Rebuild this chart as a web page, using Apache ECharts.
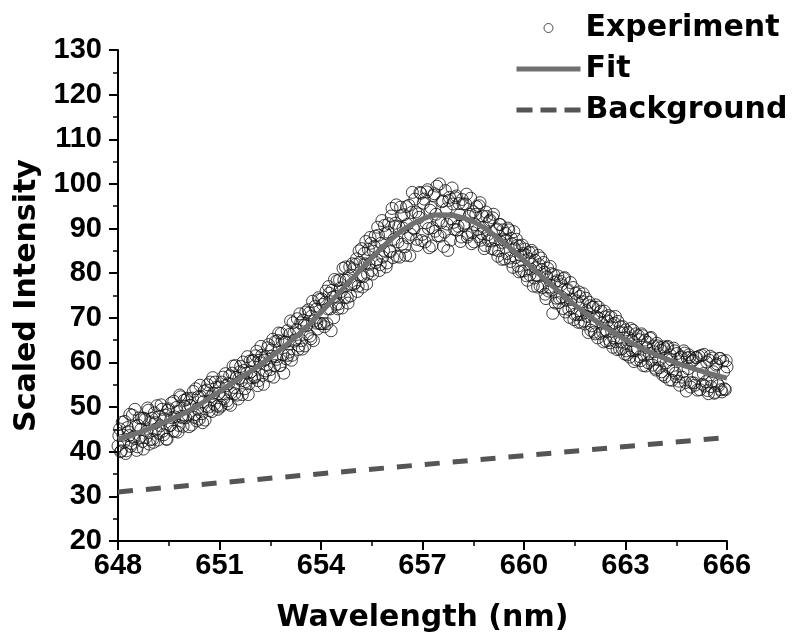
<!DOCTYPE html>
<html><head><meta charset="utf-8">
<script src="https://cdn.jsdelivr.net/npm/echarts@6/dist/echarts.min.js"></script>
<style>html,body{margin:0;padding:0;background:#fff}#c{width:795px;height:641px}</style>
</head><body><div id="c"></div>
<script>
// ---- data ----
const xTickLabels = ['648','651','654','657','660','663','666'];
const yTickLabels = ['20','30','40','50','60','70','80','90','100','110','120','130'];
const seriesNames = ['Experiment','Fit','Background'];
// experiment, scan A: sampled every 0.05 nm from 648.000 nm
const expStartA = 648, expStep = 0.05;
const expYA = [
41.3,45.1,40.2,43.7,46.8,40.2,44.5,48.4,41.8,43.3,49.5,40.3,45.9,43.2,47.5,40.6,47.2,44.6,49.3,42.7,
47.5,42.1,46.5,50.3,44.1,45.8,49.5,43.8,48.2,42.8,49.6,45.9,47.6,51.3,44.6,49.0,45.9,52.3,47.6,51.5,
47.6,52.0,45.6,50.3,52.0,47.7,54.1,49.6,47.3,52.3,46.5,53.6,50.2,55.0,49.2,52.3,56.6,50.6,54.4,49.5,
54.5,50.4,56.7,53.0,54.8,50.8,57.0,53.2,59.2,53.0,56.6,51.8,57.9,55.9,60.1,54.1,57.6,52.8,60.3,56.6,
60.4,56.7,62.5,55.9,59.9,61.6,55.1,61.3,59.4,64.0,58.4,61.4,56.7,64.7,60.7,66.6,59.3,64.8,57.6,64.5,
67.1,62.3,69.3,61.6,66.6,65.1,69.8,63.7,68.9,63.0,68.3,71.3,66.4,71.1,65.3,73.7,69.3,71.9,67.5,74.1,
68.7,73.0,68.0,76.0,72.0,75.5,67.1,74.6,78.6,73.0,72.0,78.5,75.9,81.1,74.5,78.4,73.3,81.4,77.5,81.0,
77.8,83.2,77.1,82.4,85.5,79.2,82.1,77.6,85.3,88.0,80.6,84.9,88.3,83.0,88.5,81.9,91.8,85.1,88.9,82.3,
91.1,84.8,94.5,87.6,91.2,83.8,90.4,94.8,86.5,93.1,84.0,90.9,95.2,88.7,98.1,89.9,93.7,86.2,92.5,97.9,
88.7,96.6,91.3,98.7,85.7,94.7,90.2,97.8,93.2,88.4,100.0,91.3,96.2,89.2,94.4,85.1,97.0,92.2,95.5,89.8,
97.3,90.5,93.1,88.1,95.5,91.2,97.7,88.6,93.2,86.6,93.8,90.9,94.9,88.2,95.8,88.9,90.3,86.2,92.7,87.3,
91.9,85.5,93.2,87.5,89.9,85.0,90.9,83.1,87.5,88.9,84.4,89.7,82.6,86.5,89.3,83.5,86.2,80.3,84.0,86.3,
80.5,84.1,78.4,84.7,80.9,84.6,78.9,81.2,76.9,81.9,83.4,76.8,80.2,74.3,81.1,76.9,79.9,71.0,77.9,74.4,
79.4,74.4,77.4,72.1,79.0,74.0,76.3,70.1,74.1,76.8,70.8,73.8,69.0,74.8,70.7,75.4,68.6,71.6,66.7,72.7,
68.2,72.4,66.4,70.2,72.4,66.5,68.8,64.6,70.2,67.0,70.5,64.4,68.5,65.5,70.3,62.9,66.9,68.0,63.1,66.6,
67.3,61.7,65.5,67.6,62.6,60.2,66.4,63.1,65.1,60.4,66.0,61.6,59.2,64.5,62.0,65.6,59.4,62.4,58.3,63.7,
58.8,62.7,57.2,63.1,59.9,63.6,56.1,60.6,58.2,62.6,56.8,60.8,54.9,61.3,57.9,62.1,53.6,58.6,61.2,55.5,
60.5,54.9,61.1,57.1,53.9,61.6,57.5,54.7,60.1,53.0,61.4,55.7,57.9,53.3,59.7,54.8,60.9,53.4,57.9,53.9,
59.0
];
// experiment, scan B: sampled every 0.05 nm from 648.025 nm
const expStartB = 648.025;
const expYB = [
43.6,40.0,46.6,42.1,39.6,45.4,43.6,41.2,48.2,43.0,45.7,41.1,47.6,45.0,42.3,47.5,43.2,49.8,41.7,46.5,
42.8,48.7,45.0,42.6,47.9,50.5,44.6,47.4,42.8,49.3,45.8,50.9,44.6,47.8,49.9,44.4,52.7,47.9,45.7,50.2,
51.7,48.2,50.4,46.0,53.5,48.3,46.9,52.3,54.9,48.5,51.2,47.1,53.8,50.0,55.6,49.0,53.1,55.6,50.2,53.0,
50.0,55.6,51.9,57.5,51.4,55.3,50.4,57.6,54.4,59.3,52.7,56.4,59.1,52.8,58.2,55.7,61.3,55.2,57.9,60.4,
56.7,61.5,54.8,60.5,63.6,57.1,60.5,58.1,63.3,57.0,62.8,65.2,59.3,61.3,64.9,59.3,66.5,61.7,64.6,60.8,
61.6,66.3,60.5,68.9,64.8,67.4,62.9,70.9,64.9,69.5,63.7,68.2,71.8,65.9,70.4,64.9,72.6,68.8,74.5,68.7,
74.2,68.7,73.5,68.7,77.0,72.0,76.2,70.0,74.8,78.3,73.1,76.7,72.2,78.5,81.4,74.6,79.4,74.9,82.1,77.5,
82.0,75.9,85.0,79.3,76.9,84.4,87.1,79.8,82.0,86.7,79.8,86.0,82.4,90.3,80.6,86.7,83.6,90.7,81.4,89.2,
85.0,92.8,83.5,90.5,95.3,87.0,83.6,92.9,90.1,85.9,94.9,87.9,83.9,93.6,90.1,96.6,87.6,93.3,98.1,87.3,
95.7,87.0,98.2,90.0,94.1,86.1,97.4,89.4,99.5,91.8,88.3,96.0,86.0,98.5,91.0,96.3,87.4,99.1,91.4,96.9,
89.7,95.6,87.1,96.5,90.7,95.5,88.1,92.7,96.8,89.1,87.0,93.2,89.8,95.1,87.4,92.8,85.5,93.7,88.6,91.6,
87.2,92.4,85.3,89.7,83.8,90.9,86.9,89.7,83.2,87.4,90.1,83.4,87.8,81.3,85.5,87.6,81.6,86.1,80.5,84.4,
85.4,79.4,83.2,79.6,85.1,77.1,82.9,79.5,84.0,77.1,80.8,82.4,75.3,79.2,76.0,81.5,76.2,79.7,73.3,78.3,
73.4,78.2,74.6,78.8,71.3,76.1,71.9,77.9,72.2,69.6,75.5,70.7,75.8,69.0,73.6,69.3,74.4,70.3,73.5,67.2,
72.3,66.8,72.9,65.5,69.9,71.5,66.8,71.5,64.8,69.3,65.0,70.2,63.4,68.8,64.6,69.2,63.0,64.6,68.0,61.9,
62.6,66.7,61.2,64.9,67.2,62.7,60.6,66.0,61.3,66.4,59.3,65.0,63.3,59.9,65.4,60.5,63.7,58.7,64.3,60.6,
63.3,57.9,63.5,56.8,63.4,58.9,61.7,56.0,63.2,57.6,62.0,55.8,61.1,56.7,62.6,55.5,61.0,61.7,54.5,60.3,
55.4,61.1,53.8,61.4,59.1,55.1,61.8,55.7,53.7,60.5,54.6,61.0,53.1,59.4,55.2,60.9,53.9,60.3,54.1,60.4
];
const fitX = [648,648.5,649,649.5,650,650.5,651,651.5,652,652.5,653,653.5,654,654.5,655,655.5,656,656.5,657,657.5,658,658.5,659,659.5,660,660.5,661,661.5,662,662.5,663,663.5,664,664.5,665,665.5,666];
const fitY = [42.8,44.0,45.4,47.0,48.8,51.0,53.5,56.0,58.4,61.1,64.1,67.4,71.2,75.3,79.4,83.4,87.1,90.1,92.1,93.1,92.8,91.5,89.2,86.2,82.9,79.4,76.1,72.9,70.0,67.4,65.1,63.1,61.4,59.9,58.6,57.5,56.5];
const bgX = [648,666];
const bgY = [31.0,43.2];

// ---- build ----
const expData = expYA.map((v,i)=>[+(expStartA+i*expStep).toFixed(3), v])
  .concat(expYB.map((v,i)=>[+(expStartB+i*expStep).toFixed(3), v]));
const fitData = fitX.map((x,i)=>[x, fitY[i]]);
const bgData = bgX.map((x,i)=>[x, bgY[i]]);

const tickFont = {fontFamily:'Liberation Sans, Arial, sans-serif', fontWeight:'bold', fontSize:29, color:'#000'};
const titleFont = {fontFamily:'DejaVu Sans, sans-serif', fontWeight:'bold', fontSize:30, color:'#000'};
const hideSym = {color:'rgba(0,0,0,0)', borderWidth:0, opacity:0};

const chart = echarts.init(document.getElementById('c'), null, {renderer:'canvas'});
chart.setOption({
  animation:false,
  backgroundColor:'#fff',
  grid:{left:118, right:68, top:50, bottom:100, containLabel:false, outerBoundsMode:'none'},
  legend:{
    orient:'vertical', left:509, top:8, itemWidth:64, itemHeight:9, itemGap:11,
    textStyle:titleFont,
    data:[
      {name:seriesNames[0], icon:'circle', itemStyle:{color:'#fff', borderColor:'#222', borderWidth:1}},
      {name:seriesNames[1], itemStyle:hideSym, lineStyle:{width:5, color:'#707070', type:'solid'}},
      {name:seriesNames[2], itemStyle:hideSym, lineStyle:{width:5, color:'#555', type:[16,8]}}
    ]
  },
  xAxis:{
    type:'value', min:648, max:666, interval:3,
    axisLine:{show:true, onZero:false, lineStyle:{color:'#000', width:2}},
    axisTick:{show:true, inside:false, length:9, lineStyle:{color:'#000', width:2}},
    minorTick:{show:true, splitNumber:2, length:5, lineStyle:{color:'#000', width:1.5}},
    splitLine:{show:false},
    axisLabel:Object.assign({margin:10, formatter:(v)=>xTickLabels[Math.round((v-648)/3)] ?? ''}, tickFont),
    name:'Wavelength (nm)', nameLocation:'middle', nameGap:62, nameTextStyle:titleFont
  },
  yAxis:{
    type:'value', min:20, max:130, interval:10,
    axisLine:{show:true, onZero:false, lineStyle:{color:'#000', width:2}},
    axisTick:{show:true, inside:false, length:9, lineStyle:{color:'#000', width:2}},
    minorTick:{show:true, splitNumber:2, length:5, lineStyle:{color:'#000', width:1.5}},
    splitLine:{show:false},
    axisLabel:Object.assign({margin:16, formatter:(v)=>yTickLabels[Math.round((v-20)/10)] ?? ''}, tickFont),
    name:'Scaled Intensity', nameLocation:'middle', nameGap:76, nameRotate:90, nameTextStyle:titleFont
  },
  series:[
    {
      name:seriesNames[0], type:'scatter', data:expData, symbol:'circle', symbolSize:12,
      itemStyle:{color:'rgba(255,255,255,0)', borderColor:'#111', borderWidth:1},
      z:2
    },
    {
      name:seriesNames[1], type:'line', data:fitData, smooth:0.4, showSymbol:false, symbol:'none',
      lineStyle:{color:'#707070', width:5}, itemStyle:{color:'#707070'}, z:3
    },
    {
      name:seriesNames[2], type:'line', data:bgData, showSymbol:false, symbol:'none',
      lineStyle:{color:'#555', width:5, type:[15,13]}, itemStyle:{color:'#555'}, z:3
    }
  ]
});
</script>
</body></html>
